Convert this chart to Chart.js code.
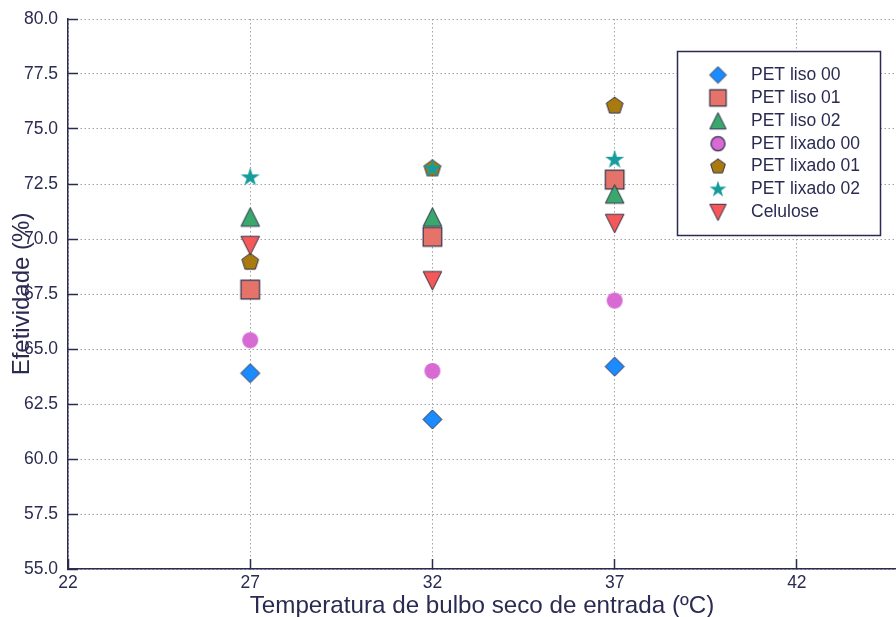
<!DOCTYPE html>
<html lang="pt">
<head>
<meta charset="UTF-8">
<title>Efetividade x Temperatura de bulbo seco</title>
<script src="https://cdn.jsdelivr.net/npm/chart.js"></script>
<style>
  body { margin: 0; background: #fff; }
  canvas { display: block; }
</style>
</head>
<body>
<canvas id="chart" width="896" height="617"></canvas>
<script>
// --- values ---
const temps = [27, 32, 37];
const petLiso00 = [63.9, 61.8, 64.2];
const petLiso01 = [67.7, 70.1, 72.7];
const petLiso02 = [71.0, 71.0, 72.05];
const petLixado00 = [65.4, 64.0, 67.2];
const petLixado01 = [68.95, 73.2, 76.05];
const petLixado02 = [72.8, 73.2, 73.6];
const celulose = [69.7, 68.1, 70.7];

const seriesNames = ['PET liso 00', 'PET liso 01', 'PET liso 02', 'PET lixado 00',
                     'PET lixado 01', 'PET lixado 02', 'Celulose'];
const xTicks = [22, 27, 32, 37, 42];
const yTicks = [55, 57.5, 60, 62.5, 65, 67.5, 70, 72.5, 75, 77.5, 80];

const ink = '#2b2b52';
const edge = '#30304a';
const family = '"Liberation Sans", Arial, sans-serif';

// draw a matplotlib-like marker on a small canvas, used as pointStyle
function marker(shape, h, fill, lw) {
    const dim = Math.ceil(2 * (h + lw)) + 2;
    const c = document.createElement('canvas');
    c.width = dim; c.height = dim;
    const g = c.getContext('2d');
    g.translate(dim / 2, dim / 2);
    g.beginPath();
    let pts = null;
    if (shape === 'o') {
        g.arc(0, 0, h, 0, Math.PI * 2);
    } else if (shape === 'D') {
        pts = [[0, -h], [h, 0], [0, h], [-h, 0]];
    } else if (shape === 's') {
        pts = [[-h, -h], [h, -h], [h, h], [-h, h]];
    } else if (shape === '^') {
        pts = [[0, -h], [h, h], [-h, h]];
    } else if (shape === 'v') {
        pts = [[0, h], [h, -h], [-h, -h]];
    } else if (shape === 'p') {
        pts = [];
        for (let k = 0; k < 5; k++) {
            const a = -Math.PI / 2 + k * 2 * Math.PI / 5;
            pts.push([h * Math.cos(a), h * Math.sin(a)]);
        }
    } else if (shape === '*') {
        pts = [];
        for (let k = 0; k < 10; k++) {
            const a = -Math.PI / 2 + k * Math.PI / 5;
            const r = k % 2 ? h * 0.382 : h;
            pts.push([r * Math.cos(a), r * Math.sin(a)]);
        }
    }
    if (pts) {
        g.moveTo(pts[0][0], pts[0][1]);
        pts.slice(1).forEach(p => g.lineTo(p[0], p[1]));
        g.closePath();
    }
    g.fillStyle = fill;
    g.fill();
    if (lw > 0) {
        g.lineWidth = lw;
        g.strokeStyle = edge;
        g.stroke();
    }
    return c;
}

const series = [
    { data: petLiso00,   shape: 'D', size: 9.5, color: '#1a8cff', lw: 1, legendLw: 1 },
    { data: petLiso01,   shape: 's', size: 9.3, color: '#e5736a', lw: 1.2, legendLw: 1.2 },
    { data: petLiso02,   shape: '^', size: 9.3, color: '#3aa86c', lw: 1, legendLw: 1 },
    { data: petLixado00, shape: 'o', size: 8,   color: '#d86ad4', lw: 0, legendLw: 1.2 },
    { data: petLixado01, shape: 'p', size: 8.8, color: '#a87a10', lw: 1, legendLw: 1 },
    { data: petLixado02, shape: '*', size: 10,  color: '#179c9c', lw: 0, legendLw: 0 },
    { data: celulose,    shape: 'v', size: 9.3, color: '#f45858', lw: 1, legendLw: 1 }
];

const datasets = series.map((s, i) => ({
    label: seriesNames[i],
    data: temps.map((t, j) => ({ x: t, y: s.data[j] })),
    pointStyle: marker(s.shape, s.size, s.color, s.lw),
    legendStyle: marker(s.shape, s.size * 0.88, s.color, s.legendLw),
    showLine: false,
    order: series.length - i   // later series on top, as in the original
}));

// legend drawn as a framed box inside the plot area
const boxLegend = {
    id: 'boxLegend',
    afterDraw(chart) {
        const ctx = chart.ctx;
        const bx = 677.5, by = 51.5, bw = 203, bh = 184;
        ctx.save();
        ctx.fillStyle = '#ffffff';
        ctx.fillRect(bx, by, bw, bh);
        ctx.strokeStyle = ink;
        ctx.lineWidth = 1.5;
        ctx.strokeRect(bx, by, bw, bh);
        ctx.font = '17.5px ' + family;
        ctx.fillStyle = ink;
        ctx.textBaseline = 'middle';
        chart.data.datasets.forEach((ds, i) => {
            const y = by + 23.5 + i * 22.9;
            const img = ds.legendStyle;
            ctx.drawImage(img, 718 - img.width / 2, y - img.height / 2);
            ctx.fillText(ds.label, 751, y);
        });
        ctx.restore();
    }
};

const gridOpts = { color: '#a3a3a3', lineWidth: 1, tickLength: -10, tickColor: ink, tickWidth: 1.5 };
const borderOpts = { color: ink, width: 1.5, dash: [1.5, 2.5] };

// fixed axis box sizes, no extra label padding at the ends
function fixBox(w, h) {
    return s => {
        if (w !== null) s.width = w;
        if (h !== null) s.height = h;
        s.paddingTop = 0; s.paddingBottom = 0;
        s.paddingLeft = 0; s.paddingRight = 0;
    };
}

const config = {
    type: 'scatter',
    data: { datasets: datasets },
    options: {
        responsive: false,
        animation: false,
        events: [],
        layout: { autoPadding: false, padding: { top: 19, right: 0, bottom: 0, left: 0 } },
        plugins: {
            legend: { display: false },
            tooltip: { enabled: false }
        },
        scales: {
            x: {
                type: 'linear',
                min: 22,
                max: 44.72,
                afterFit: fixBox(null, 48),
                afterBuildTicks: s => { s.ticks = xTicks.map(v => ({ value: v })); },
                grid: gridOpts,
                border: borderOpts,
                ticks: { color: ink, font: { size: 17.5, family: family }, padding: 14, maxRotation: 0, autoSkip: false },
                title: {
                    display: true,
                    text: 'Temperatura de bulbo seco de entrada (ºC)',
                    color: ink,
                    font: { size: 24.2, family: family },
                    padding: { top: 0, bottom: -3.5 }
                }
            },
            y: {
                type: 'linear',
                min: 55,
                max: 80,
                afterFit: fixBox(68, null),
                afterBuildTicks: s => { s.ticks = yTicks.map(v => ({ value: v })); },
                grid: gridOpts,
                border: borderOpts,
                ticks: {
                    color: ink,
                    font: { size: 17.5, family: family },
                    padding: 20,
                    callback: v => v.toFixed(1)
                },
                title: {
                    display: true,
                    text: 'Efetividade (%)',
                    color: ink,
                    font: { size: 24, family: family },
                    padding: { top: 7.6, bottom: 0 }
                }
            }
        }
    },
    plugins: [boxLegend]
};

new Chart(document.getElementById('chart').getContext('2d'), config);
</script>
</body>
</html>
